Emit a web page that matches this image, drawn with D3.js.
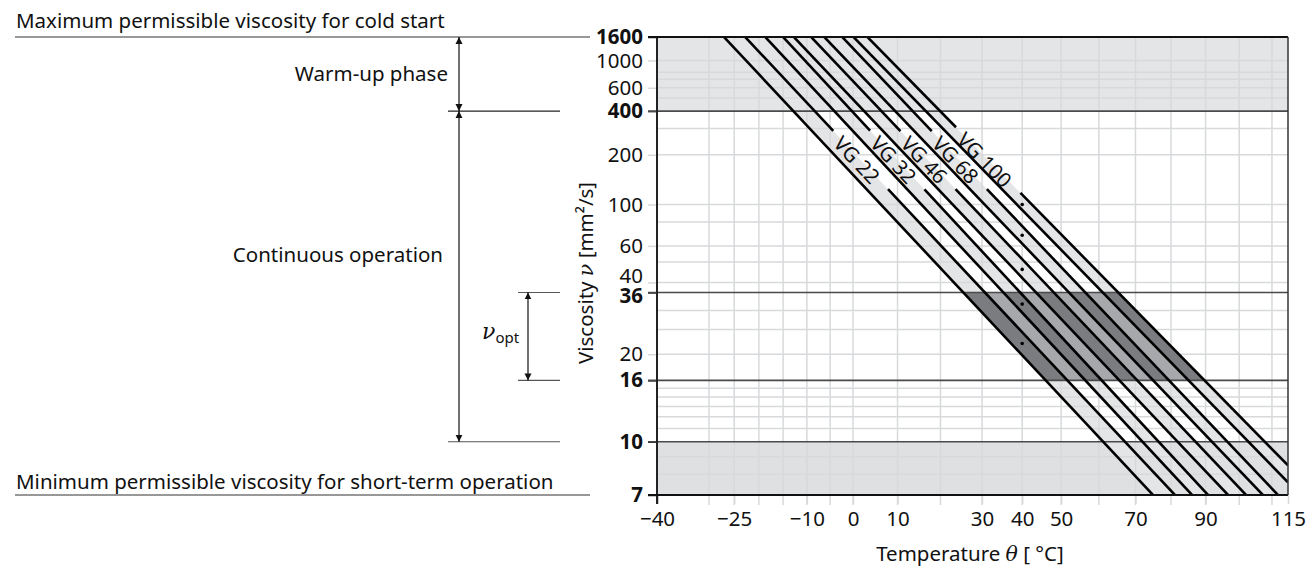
<!DOCTYPE html>
<html><head><meta charset="utf-8">
<script src="https://cdn.jsdelivr.net/npm/d3@7"></script>
<style>
body{margin:0;background:#fff}
svg{display:block;font-family:"Noto Sans",sans-serif}
</style>
</head><body>
<svg id="chart" width="1312" height="566"></svg>
<script>
// ---------- data ----------
const yTickValues = [1600,1000,600,400,200,100,60,40,36,20,16,10,7];
const yBoldValues = [1600,400,36,16,10,7];
const yGridValues = [1000,800,700,600,500,300,200,100,80,60,50,40,30,25,20,15,14,13,12,11,9,8];
const xTickValues = [-40,-25,-10,0,10,30,40,50,70,90,115];
const xGridValues = [-30,-25,-20,-15,-10,-5,0,10,20,30,40,50,60,70,80,90,100,110];
const grades = ["VG 22","VG 32","VG 46","VG 68","VG 100"];
const nominal40 = [22,32,46,68,100];
// boundary lines (min / max of each grade): viscosity at 40 °C and at 100 °C
const lineV40  = [19.8,24.4,29.4,35.2,42.0,51.5,61.6,76.0,93.2,113.8];
const lineV100 = [4.14,4.69,5.18,5.71,6.51,7.33,8.22,9.16,10.7,12.1];
const tempRange = [-40,115];
const viscRange = [7,1600];
const warmUpLimit = 400, optHigh = 36, optLow = 16, minLimit = 10;
const labelVisc = 185;

// ---------- scales ----------
const K = 273.15;
const W = v => Math.log10(Math.log10(v + 0.7));      // Ubbelohde-Walther
const x = d3.scaleLog().domain(tempRange.map(t => t + K)).range([657,1288]);
const y = d3.scaleLinear().domain(viscRange.map(W)).range([495,37]);
const X = t => x(t + K), Y = v => y(W(v));
const L40 = Math.log10(40 + K), L100 = Math.log10(100 + K);
function lineW(i, t){ const a=W(lineV40[i]), b=W(lineV100[i]); return a+(b-a)*(Math.log10(t+K)-L40)/(L100-L40); }
function lineT(i, w){ const a=W(lineV40[i]), b=W(lineV100[i]); return Math.pow(10, L40+(w-a)/(b-a)*(L100-L40)) - K; }
const pt = (i,t) => [X(t), y(lineW(i,t))];

const FS = 20.5;
const svg = d3.select("#chart");
const x0 = X(tempRange[0]), x1 = X(tempRange[1]), yTop = Y(viscRange[1]), yBot = Y(viscRange[0]);
const defs = svg.append("defs");
defs.append("clipPath").attr("id","plot").append("rect").attr("x",x0).attr("y",yTop).attr("width",x1-x0).attr("height",yBot-yTop);
defs.append("clipPath").attr("id","opt").append("rect").attr("x",x0).attr("y",Y(optHigh)).attr("width",x1-x0).attr("height",Y(optLow)-Y(optHigh));

const LIGHT = "#e4e5e7", GRID = "#d8d9db", MID = "#a7a8ab", DARK = "#7b7c80";
const plot = svg.append("g").attr("clip-path","url(#plot)");

// light zones
plot.append("rect").attr("x",x0).attr("width",x1-x0).attr("y",Y(viscRange[1])).attr("height",Y(warmUpLimit)-Y(viscRange[1])).attr("fill",LIGHT);
plot.append("rect").attr("x",x0).attr("width",x1-x0).attr("y",Y(minLimit)).attr("height",Y(viscRange[0])-Y(minLimit)).attr("fill","#dfe0e2");

const bandPoly = (a,b) => [pt(a,tempRange[0]), pt(a,tempRange[1]), pt(b,tempRange[1]), pt(b,tempRange[0])];
const poly = d3.line();
grades.forEach((g,k) => {
  plot.append("path").attr("d", poly(bandPoly(2*k,2*k+1)) + "Z").attr("fill",LIGHT);
});

// grid
plot.selectAll(".gy").data(yGridValues).join("line").attr("x1",x0).attr("x2",x1)
  .attr("y1",d=>Y(d)).attr("y2",d=>Y(d)).attr("stroke",GRID).attr("stroke-width",1.5);
svg.selectAll(".gx").data(xGridValues).join("line").attr("y1",yTop).attr("y2",yBot+10)
  .attr("x1",d=>X(d)).attr("x2",d=>X(d)).attr("stroke",GRID).attr("stroke-width",1.5);

// optimum zone
const opt = svg.append("g").attr("clip-path","url(#opt)");
opt.append("path").attr("d", poly(bandPoly(0,lineV40.length-1)) + "Z").attr("fill",MID);
grades.forEach((g,k) => {
  opt.append("path").attr("d", poly(bandPoly(2*k,2*k+1)) + "Z").attr("fill",DARK);
});

// y axis (ticks + labels)
const yAxis = svg.append("g").attr("transform",`translate(${x0},0)`)
  .call(d3.axisLeft(y).tickValues(yTickValues.map(W)).tickSize(9).tickPadding(5)
    .tickFormat((d,i) => yTickValues[i]));
yAxis.select(".domain").remove();
yAxis.selectAll(".tick line").attr("stroke",(d,i)=> yBoldValues.includes(yTickValues[i]) ? "#222" : GRID).attr("stroke-width",1.5);
yAxis.selectAll(".tick text").attr("font-size",FS).attr("fill","#111")
  .attr("font-weight",(d,i)=> yBoldValues.includes(yTickValues[i]) ? "bold" : "normal")
  .attr("font-family","'Noto Sans',sans-serif")
  .attr("dy",(d,i)=> yTickValues[i]===40 ? "-0.0em" : yTickValues[i]===36 ? "0.48em" : "0.32em");

// x axis
const fmtT = t => { t = Math.round(t); return t < 0 ? "\u2212" + Math.abs(t) : String(t); };
const xAxis = svg.append("g").attr("transform",`translate(0,${yBot})`)
  .call(d3.axisBottom(x).tickValues(xTickValues.map(t=>t+K)).tickSize(9).tickPadding(7)
    .tickFormat(d => fmtT(d - K)));
xAxis.select(".domain").remove();
xAxis.selectAll(".tick line").attr("stroke",(d)=> Math.round(d-K)===tempRange[0] ? "#222" : GRID).attr("stroke-width",1.5);
xAxis.selectAll(".tick text").attr("font-size",FS).attr("fill","#111").attr("font-family","'Noto Sans',sans-serif");

// limit lines
[warmUpLimit, optHigh, optLow, minLimit].forEach(v => {
  svg.append("line").attr("x1",x0-9).attr("x2",x1).attr("y1",Y(v)).attr("y2",Y(v)).attr("stroke","#4a4a4a").attr("stroke-width",1.6);
});

// grade lines
const lineG = svg.append("g").attr("clip-path","url(#plot)");
const GAP = 40;
grades.forEach((g,k) => {
  const iMin = 2*k, iMax = 2*k+1;
  lineG.append("line").attr("x1",pt(iMin,tempRange[0])[0]).attr("y1",pt(iMin,tempRange[0])[1])
    .attr("x2",pt(iMin,tempRange[1])[0]).attr("y2",pt(iMin,tempRange[1])[1])
    .attr("stroke","#000").attr("stroke-width",2.6);
  // label position on the upper line
  const tc = lineT(iMax, W(labelVisc));
  const P = [X(tc), Y(labelVisc)];
  const A = pt(iMax,tempRange[0]), B = pt(iMax,tempRange[1]);
  const len = Math.hypot(B[0]-A[0], B[1]-A[1]);
  const u = [(B[0]-A[0])/len, (B[1]-A[1])/len];
  const ang = Math.atan2(u[1],u[0])*180/Math.PI;
  const gap = GAP + (g.length-5)*6;
  const pA = [P[0]-u[0]*gap, P[1]-u[1]*gap], pB = [P[0]+u[0]*gap, P[1]+u[1]*gap];
  lineG.append("line").attr("x1",A[0]).attr("y1",A[1]).attr("x2",pA[0]).attr("y2",pA[1]).attr("stroke","#000").attr("stroke-width",2.6);
  lineG.append("line").attr("x1",pB[0]).attr("y1",pB[1]).attr("x2",B[0]).attr("y2",B[1]).attr("stroke","#000").attr("stroke-width",2.6);
  svg.append("text").attr("transform",`translate(${P[0]-4},${P[1]}) rotate(${ang})`)
    .attr("text-anchor","middle").attr("dy","0.35em").attr("font-size",FS).attr("fill","#111").text(g);
  svg.append("circle").attr("cx",X(40)).attr("cy",Y(nominal40[k])).attr("r",1.8).attr("fill","#000");
});

// frame
svg.append("line").attr("x1",x0).attr("x2",x0).attr("y1",yTop).attr("y2",yBot+9).attr("stroke","#222").attr("stroke-width",2);
svg.append("line").attr("x1",x0-9).attr("x2",x1).attr("y1",yTop).attr("y2",yTop).attr("stroke","#111").attr("stroke-width",2);
svg.append("line").attr("x1",x0-9).attr("x2",x1).attr("y1",yBot).attr("y2",yBot).attr("stroke","#111").attr("stroke-width",2);
svg.append("line").attr("x1",x1).attr("x2",x1).attr("y1",yTop).attr("y2",yBot).attr("stroke","#333").attr("stroke-width",1.5);

// axis titles
const yt = svg.append("text").attr("transform",`translate(593,273) rotate(-90)`)
  .attr("text-anchor","middle").attr("font-size",FS).attr("fill","#111");
yt.append("tspan").text("Viscosity ");
yt.append("tspan").attr("font-family","'DejaVu Serif',serif").attr("font-style","italic").text("\u03BD");
yt.append("tspan").text(" [mm\u00B2/s]");
const xt = svg.append("text").attr("x",970).attr("y",561).attr("text-anchor","middle").attr("font-size",FS).attr("fill","#111");
xt.append("tspan").text("Temperature ");
xt.append("tspan").attr("font-family","'DejaVu Serif',serif").attr("font-style","italic").text("\u03B8");
xt.append("tspan").text(" [ \u00B0C]");

// ---------- left annotation ----------
const ann = svg.append("g").attr("fill","#111").attr("font-size",FS);
const annLine = (xa,xb,v,c) => svg.append("line").attr("x1",xa).attr("x2",xb).attr("y1",Y(v)).attr("y2",Y(v)).attr("stroke",c||"#333").attr("stroke-width",1.2);
annLine(15,590,viscRange[1]);
annLine(15,590,viscRange[0]);
annLine(448,560,warmUpLimit,"#222");
annLine(448,560,minLimit,"#555");
annLine(518,560,optHigh,"#555");
annLine(518,560,optLow,"#555");

defs.append("marker").attr("id","ah").attr("viewBox","0 0 10 10").attr("refX",10).attr("refY",5)
  .attr("markerWidth",7).attr("markerHeight",9).attr("orient","auto-start-reverse").attr("markerUnits","userSpaceOnUse")
  .append("path").attr("d","M0,0 L10,5 L0,10 Z").attr("fill","#111");
const arrow = (xa, va, vb) => svg.append("line").attr("x1",xa).attr("x2",xa).attr("y1",Y(va)).attr("y2",Y(vb))
  .attr("stroke","#111").attr("stroke-width",1.2).attr("marker-start","url(#ah)").attr("marker-end","url(#ah)");
arrow(459, viscRange[1], warmUpLimit);
arrow(459, warmUpLimit, minLimit);
arrow(528, optHigh, optLow);

ann.append("text").attr("x",16).attr("y",28).text("Maximum permissible viscosity for cold start");
ann.append("text").attr("x",448).attr("y",(Y(viscRange[1])+Y(warmUpLimit))/2+7).attr("text-anchor","end").text("Warm-up phase");
ann.append("text").attr("x",443).attr("y",262).attr("text-anchor","end").text("Continuous operation");
ann.append("text").attr("x",16).attr("y",489).text("Minimum permissible viscosity for short-term operation");
const vo = ann.append("text").attr("x",482).attr("y",(Y(optHigh)+Y(optLow))/2+3);
vo.append("tspan").attr("font-family","'DejaVu Serif',serif").attr("font-style","italic").attr("font-size",22).text("\u03BD");
vo.append("tspan").attr("font-size",15).attr("dy",4).text("opt");
</script>
</body></html>
